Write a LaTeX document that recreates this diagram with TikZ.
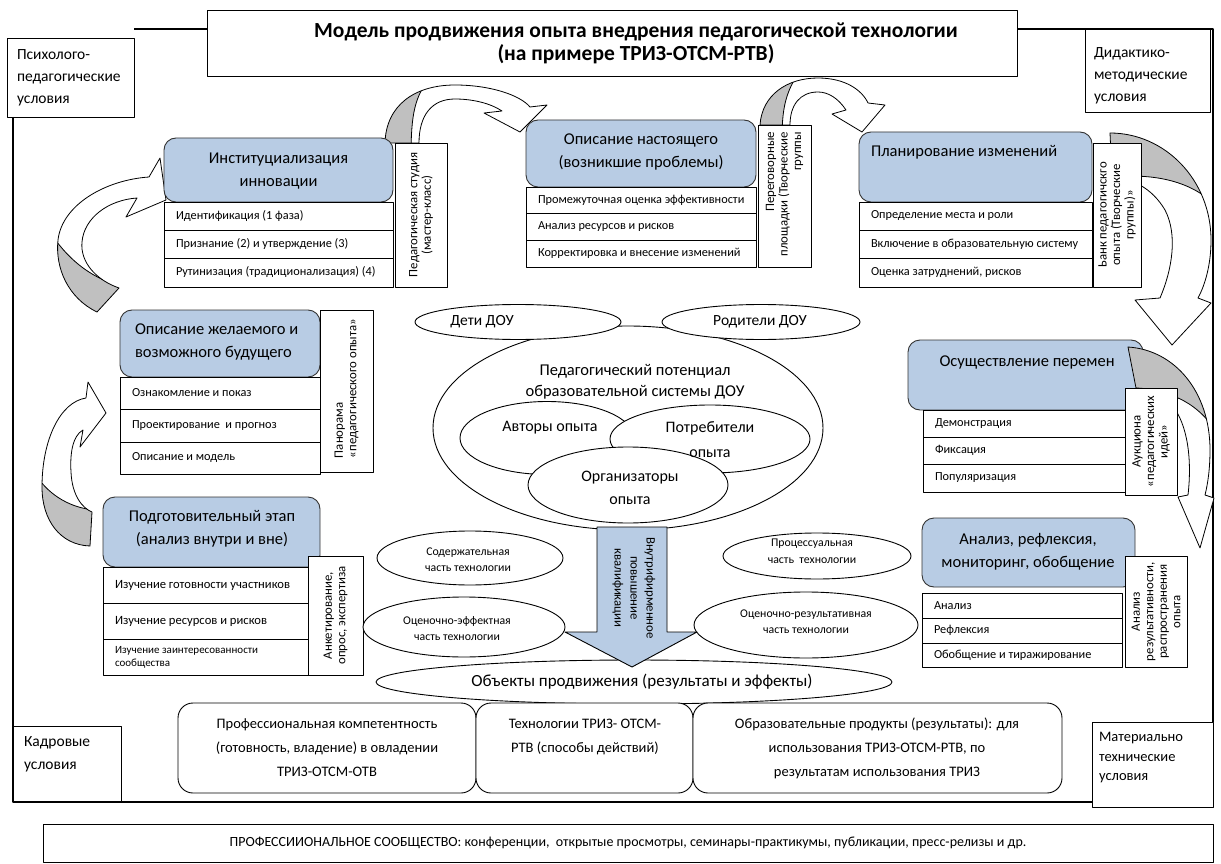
\documentclass[tikz,border=0pt]{standalone}
\usepackage{fontspec}
\setmainfont{Carlito}
\usetikzlibrary{shapes.geometric}
\definecolor{hblue}{HTML}{B8CCE4}
\definecolor{agray}{HTML}{C0C0C0}
\newcommand\cellrow[6]{%
  \node[cell,minimum width=#4pt,minimum height=#5pt] (#1) at (#2,#3) {};
  \node[ctext] (#1t) at ([xshift=12pt]#1.west) {#6};}
\newcommand\hdrbox[5]{\node[hdr,minimum width=#4pt,minimum height=#5pt] (#1) at (#2,#3) {};}
\newcommand\sidebox[6]{%
  \node[side,minimum width=#4pt,minimum height=#5pt] (#1) at (#2,#3) {};
  \node[stext] (#1t) at (#1.center) {#6};}
\newcommand\curvarrow[3]{%
  \fill[white] #1;
  \begin{scope}\clip #1; \fill[agray] #2 -- cycle; \draw[line width=0.8pt] #3; \end{scope}
  \draw[line width=0.8pt] #1;}
\begin{document}
\begin{tikzpicture}[x=1pt,y=-1pt,line join=round,
  every node/.style={inner sep=0pt,outer sep=0pt},
  frame/.style={draw=black,line width=1.1pt},
  plainbox/.style={draw=black,fill=white,line width=0.9pt,anchor=north west},
  hdr/.style={draw=black!80,fill=hblue,line width=0.9pt,rounded corners=12pt,anchor=north west},
  cell/.style={draw=black,fill=white,line width=0.9pt,anchor=north west},
  side/.style={draw=black,fill=white,line width=0.9pt,anchor=north west},
  ell/.style={ellipse,draw=black,fill=white,line width=0.9pt},
  rbox/.style={draw=black,fill=white,line width=0.9pt,rounded corners=15pt,anchor=north west},
  htext/.style={font=\fontsize{16.5}{23}\selectfont,align=center},
  ctext/.style={font=\fontsize{12.3}{14}\selectfont,anchor=west,align=left},
  stext/.style={font=\fontsize{12.8}{13.5}\selectfont,rotate=90,align=center},
  condtext/.style={font=\fontsize{15.5}{22}\selectfont,align=left,anchor=west},
  etext/.style={font=\fontsize{16}{24}\selectfont,align=center},
  smalltext/.style={font=\fontsize{11.8}{16.5}\selectfont,align=center},
  btext/.style={font=\fontsize{14.5}{24}\selectfont,align=center}]
\useasboundingbox (0,0) rectangle (1221,864);
\fill[white] (0,0) rectangle (1221,864);

% ---------- corner boxes, title, frame ----------
\node[plainbox,minimum width=810pt,minimum height=66pt] (title) at (207,10) {};
\node[font=\bfseries\fontsize{21.5}{23.5}\selectfont,align=center] (titlet) at (636,43.5)
  {Модель продвижения опыта внедрения педагогической технологии\\(на примере ТРИЗ-ОТСМ-РТВ)};
\node[plainbox,minimum width=127pt,minimum height=79pt] (lc) at (7,38) {};
\node[condtext] (lct) at (17,78) {Психолого-\\педагогические\\условия};
\node[plainbox,minimum width=125pt,minimum height=83pt] (rc) at (1085,29) {};
\node[condtext] (rct) at (1094,76) {Дидактико-\\методические\\условия};
\node[plainbox,minimum width=108pt,minimum height=76pt] (kadr) at (13,726) {};
\node[condtext,font=\fontsize{15.5}{23}\selectfont] (kadrt) at (24,754) {Кадровые\\условия};
\node[plainbox,minimum width=121pt,minimum height=85pt] (mat) at (1092,722) {};
\node[condtext,font=\fontsize{14.5}{19.5}\selectfont] (matt) at (1099,758) {Материально\\технические\\условия};
\coordinate (ytop) at (0,29);
\coordinate (xl) at (13,0);
\coordinate (xr) at (1213,0);
\coordinate (ybot) at (0,802);
\draw[frame] (lc.east |- ytop) -- (title.west |- ytop);
\draw[frame] (title.east |- ytop) -- (xr |- ytop) -- (xr |- mat.north);
\draw[frame] (xl |- lc.south) -- (xl |- ybot) -- (mat.west |- ybot);

% ---------- curved arrows (behind blocks) ----------
\curvarrow{(385,143) .. controls (386,105) and (415,85) .. (455,85) .. controls (490,85) and (520,95) .. (530,107) -- (547,105) -- (520,132) -- (484,113) -- (502,111) .. controls (490,103) and (472,99) .. (455,99) .. controls (432,99) and (419,115) .. (419,143) -- cycle}
 {(411,160) .. controls (411,120) and (413,100) .. (428,80) -- (360,60) -- (360,160)}
 {(411,160) .. controls (411,120) and (413,100) .. (428,80)}
\curvarrow{(760,125) .. controls (762,95) and (787,78) .. (818,78) .. controls (845,78) and (862,90) .. (868,103) -- (885,105) -- (862,132) -- (832,114) -- (846,110) .. controls (838,98) and (828,92) .. (818,92) .. controls (800,92) and (790,105) .. (790,125) -- cycle}
 {(782,140) .. controls (782,110) and (785,95) .. (797,75) -- (740,60) -- (740,140)}
 {(782,140) .. controls (782,110) and (785,95) .. (797,75)}
\curvarrow{(1110,133) .. controls (1165,133) and (1211,180) .. (1211,240) .. controls (1211,265) and (1205,285) .. (1198,298) -- (1211,303) -- (1172,345) -- (1135,300) -- (1160,298) .. controls (1172,270) and (1178,235) .. (1165,210) .. controls (1152,188) and (1132,178) .. (1112,178) -- cycle}
 {(1105,178) .. controls (1150,172) and (1190,180) .. (1215,205) -- (1230,120) -- (1100,120)}
 {(1105,178) .. controls (1150,172) and (1190,180) .. (1215,205)}
\curvarrow{(90,546) .. controls (60,545) and (42,520) .. (42,487) .. controls (42,440) and (60,402) .. (86,398) -- (88,382) -- (106,413) -- (80,447) -- (83,430) .. controls (72,436) and (70,455) .. (71,472) .. controls (72,495) and (82,508) .. (92,512) -- cycle}
 {(95,510) .. controls (70,508) and (50,495) .. (38,478) -- (30,560) -- (100,560)}
 {(95,510) .. controls (70,508) and (50,495) .. (38,478)}
\curvarrow{(97,312) .. controls (68,298) and (55,268) .. (58,240) .. controls (62,205) and (105,180) .. (149,177) -- (160,158) -- (166,200) -- (126,217) -- (137,198) .. controls (108,200) and (84,218) .. (82,242) .. controls (80,262) and (96,280) .. (119,288) -- cycle}
 {(122,286) .. controls (95,280) and (70,262) .. (52,235) -- (40,330) -- (125,330)}
 {(122,286) .. controls (95,280) and (70,262) .. (52,235)}

% ---------- Block 1 ----------
\hdrbox{h1}{164}{138}{229}{64}
\node[htext] (h1t) at (278.5,171) {Институциализация\\инновации};
\cellrow{r1a}{164}{202}{229}{28}{Идентификация (1 фаза)}
\cellrow{r1b}{164}{230}{229}{28}{Признание (2) и утверждение (3)}
\cellrow{r1c}{164}{258}{229}{29}{Рутинизация (традиционализация) (4)}
\sidebox{s1}{395}{143}{52}{144}{Педагогическая студия\\(мастер-класс)}

% ---------- Block 2 ----------
\hdrbox{h2}{526}{120}{230}{67}
\node[htext] (h2t) at (641,152) {Описание настоящего\\(возникшие проблемы)};
\cellrow{r2a}{526}{187}{230}{26}{Промежуточная оценка эффективности}
\cellrow{r2b}{526}{213}{230}{27}{Анализ ресурсов и рисков}
\cellrow{r2c}{526}{240}{230}{27}{Корректировка и внесение изменений}
\node[side,minimum width=53pt,minimum height=142pt] (s2) at (758,125) {};
\node[stext,align=right,anchor=east] (s2t) at (784.5,132) {Переговорные\\площадки (Творческие\\группы};

% ---------- Block 3 ----------
\hdrbox{h3}{859}{132}{233}{70}
\node[htext,anchor=west] (h3t) at (871,152) {Планирование изменений};
\cellrow{r3a}{859}{202}{233}{28}{Определение места и роли}
\cellrow{r3b}{859}{230}{233}{28}{Включение в образовательную систему}
\cellrow{r3c}{859}{258}{233}{29}{Оценка затруднений, рисков}
\sidebox{s3}{1093}{143}{48}{144}{Ьанк педагогичскго\\опыта (Творческие\\группы)»}

% ---------- Block 4 ----------
\hdrbox{h4}{120}{310}{200}{67}
\node[htext,align=left,anchor=west] (h4t) at (135,342) {Описание желаемого и\\возможного будущего};
\cellrow{r4a}{120}{377}{200}{32}{Ознакомление и показ}
\cellrow{r4b}{120}{409}{200}{33}{Проектирование\ \ и прогноз}
\cellrow{r4c}{120}{442}{200}{32}{Описание и модель}
\node[side,minimum width=53pt,minimum height=162pt] (s4) at (320,310) {};
\node[stext,align=left,anchor=west] (s4t) at (346.5,458) {Панорама\\«педагогического опыта»};

% ---------- Block 5 ----------
\hdrbox{h5}{103}{497}{217}{70}
\node[htext] (h5t) at (212,528.5) {Подготовительный этап\\(анализ внутри и вне)};
\node[cell,minimum width=205pt,minimum height=36pt] (r5a) at (103,567) {};
\node[ctext,font=\fontsize{12.6}{14}\selectfont] (r5at) at ([xshift=12pt]r5a.west) {Изучение готовности участников};
\node[cell,minimum width=205pt,minimum height=36pt] (r5b) at (103,603) {};
\node[ctext,font=\fontsize{12.6}{14}\selectfont] (r5bt) at ([xshift=12pt]r5b.west) {Изучение ресурсов и рисков};
\node[cell,minimum width=205pt,minimum height=36pt] (r5c) at (103,639) {};
\node[ctext,font=\fontsize{11}{13}\selectfont] (r5ct) at ([xshift=12pt]r5c.west) {Изучение заинтересованности\\сообщества};
\sidebox{s5}{308}{556}{55}{119}{Анкетирование,\\опрос, экспертиза}

% ---------- Block 6 ----------
\hdrbox{h6}{908}{340}{235}{70}
\node[htext] (h6t) at (1027,362) {Осуществление перемен};
\curvarrow{(1128,347) .. controls (1175,350) and (1210,392) .. (1210,450) .. controls (1210,468) and (1208,483) .. (1205,495) -- (1214,498) -- (1200,548) -- (1178,497) -- (1188,495) .. controls (1192,460) and (1188,425) .. (1172,405) .. controls (1162,393) and (1150,388) .. (1136,388) -- cycle}
 {(1130,390) .. controls (1165,388) and (1195,400) .. (1215,430) -- (1230,330) -- (1120,330)}
 {(1130,390) .. controls (1165,388) and (1195,400) .. (1215,430)}
\cellrow{r6a}{923}{410}{202}{27}{Демонстрация}
\cellrow{r6b}{923}{437}{202}{27}{Фиксация}
\cellrow{r6c}{923}{464}{202}{28}{Популяризация}
\sidebox{s6}{1125}{388}{52}{107}{Аукциона\\«педагогических\\идей»}

% ---------- Block 7 ----------
\hdrbox{h7}{922}{518}{213}{69}
\node[htext] (h7t) at (1028,552) {Анализ, рефлексия,\\мониторинг, обобщение};
\cellrow{r7a}{922}{593}{200}{25}{Анализ}
\cellrow{r7b}{922}{618}{200}{25}{Рефлексия}
\cellrow{r7c}{922}{643}{200}{24}{Обобщение и тиражирование}
\sidebox{s7}{1125}{556}{62}{111}{Анализ\\результативности,\\распространения\\опыта}

% ---------- centre ellipses ----------
\node[ell,minimum width=390pt,minimum height=204pt] (big) at (628,428) {};
\node[ell,minimum width=206pt,minimum height=35pt] (deti) at (518,322) {};
\node[ell,minimum width=198pt,minimum height=35pt] (rod) at (761,322) {};
\node[ell,minimum width=174pt,minimum height=73pt] (avt) at (547,438) {};
\node[ell,minimum width=200pt,minimum height=68pt] (potr) at (710,439) {};
\node[ell,minimum width=200pt,minimum height=76pt] (org) at (628,485) {};
\node[font=\fontsize{15.5}{18}\selectfont] (detit) at (482,322) {Дети ДОУ};
\node[font=\fontsize{15.5}{18}\selectfont] (rodt) at (760,322) {Родители ДОУ};
\node[font=\fontsize{16.5}{20.5}\selectfont,align=center] (bigt) at (635,382) {Педагогический потенциал\\образовательной системы ДОУ};
\node[etext] (avtt) at (550,428) {Авторы опыта};
\node[etext,font=\fontsize{16}{25}\selectfont] (potrt) at (710,440) {Потребители\\опыта};
\node[etext,font=\fontsize{16}{23}\selectfont] (orgt) at (630,488) {Организаторы\\опыта};

% ---------- lower ellipses ----------
\node[ell,minimum width=186pt,minimum height=54pt] (cont) at (470,558) {};
\node[smalltext,font=\fontsize{11.8}{15.5}\selectfont] (contt) at (468,559.5) {Содержательная\\часть технологии};
\node[ell,minimum width=202pt,minimum height=60pt] (eff) at (464,627) {};
\node[smalltext] (efft) at (457,628.5) {Оценочно-эффектная\\часть технологии};
\node[ell,minimum width=188pt,minimum height=46pt] (proc) at (817,556) {};
\node[smalltext] (proct) at (812,551.5) {Процессуальная\\часть\ \ технологии};
\node[ell,minimum width=224pt,minimum height=66pt] (res) at (806,625) {};
\node[smalltext] (rest) at (806,621.5) {Оценочно-результативная\\часть технологии};
\node[ell,minimum width=516pt,minimum height=44pt] (obj) at (634,682) {};
\node[font=\fontsize{17}{20}\selectfont] (objt) at (642,682) {Объекты продвижения (результаты и эффекты)};

% ---------- blue down arrow ----------
\filldraw[fill=hblue,draw=black,line width=0.9pt] (597,527) -- (667,527) -- (667,632) -- (697,632) -- (632,667) -- (565,632) -- (597,632) -- cycle;
\node[font=\fontsize{12.8}{16}\selectfont,rotate=-90,align=center] (vnt) at (634,588) {Внутрифирменное\\повышение\\квалификации};

% ---------- bottom boxes ----------
\node[rbox,minimum width=298pt,minimum height=90pt] (b1) at (178,703) {};
\node[btext] (b1t) at (327,748) {Профессиональная компетентность\\(готовность, владение) в овладении\\ТРИЗ-ОТСМ-ОТВ};
\node[rbox,minimum width=217pt,minimum height=90pt] (b2) at (476,703) {};
\node[btext] (b2t) at (585,736.5) {Технологии ТРИЗ- ОТСМ-\\РТВ (способы действий)};
\node[rbox,minimum width=369pt,minimum height=90pt] (b3) at (693,703) {};
\node[btext] (b3t) at (877,748) {Образовательные продукты (результаты): для\\использования ТРИЗ-ОТСМ-РТВ, по\\результатам использования ТРИЗ};

\node[plainbox,minimum width=1170pt,minimum height=38pt] (comm) at (43,824) {};
\node[font=\fontsize{14}{16}\selectfont] (commt) at (comm.center) {ПРОФЕССИИОНАЛЬНОЕ СООБЩЕСТВО: конференции,\ \ открытые просмотры, семинары-практикумы, публикации, пресс-релизы и др.};
\end{tikzpicture}
\end{document}
